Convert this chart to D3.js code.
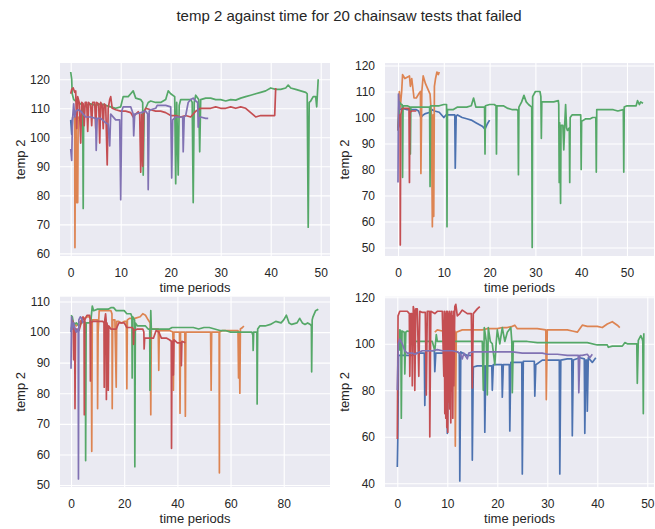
<!DOCTYPE html>
<html><head><meta charset="utf-8">
<script src="https://cdn.jsdelivr.net/npm/d3@7"></script>
<style>
html,body{margin:0;padding:0;background:#fff;}
text{font-family:"Liberation Sans",Arial,sans-serif;fill:#262626;}
</style></head>
<body><svg id="c" width="655" height="529"></svg>
<script>
const titleText = "temp 2 against time for 20 chainsaw tests that failed";
const xLabel = "time periods", yLabel = "temp 2";
const seriesNames = ["blue","orange","green","red","purple"];
const palette = ["#4C72B0","#DD8452","#55A868","#C44E52","#8172B3"];

// ---- tick labels ----
const p1XTicks=[0,10,20,30,40,50], p1YTicks=[60,70,80,90,100,110,120];
const p2XTicks=[0,10,20,30,40,50], p2YTicks=[50,60,70,80,90,100,110,120];
const p3XTicks=[0,20,40,60,80], p3YTicks=[50,60,70,80,90,100,110];
const p4XTicks=[0,10,20,30,40,50], p4YTicks=[40,60,80,100,120];

// ---- panel 1 ----
const p1Blue=[[0,106],[0.2,101],[0.4,107]];
const p1Orange=[[0.6,107],[0.8,107],[0.85,62],[0.95,107],[1.1,104],[1.2,77.5],[1.4,77.5],[1.5,107],[1.6,106]];
const p1Green=[[0,122.5],[0.2,120],[0.3,115],[0.6,113],[1,112.5],[1.5,112],[2,111.5],[2.4,111],[2.5,75.5],[2.6,110],[3,111],[4,111.5],[5,111],[6,111.5],[7,111],[8,110.5],[9,110],[10,110.5],[10.5,114],[11.5,114],[12,115],[12.5,116],[13,113.5],[14,113],[14.4,112],[14.5,87],[14.7,109],[15,110],[15.5,112],[16,112.5],[17,112],[18,112],[19,113],[19.5,116],[20,115],[20.8,114],[21,84],[21.2,112],[21.5,87],[21.7,111],[22,113],[23,113],[24,113],[24.3,112],[24.5,77.5],[24.7,112],[25,114.5],[25.6,113],[25.8,95],[26,113],[27,113.5],[28,113.5],[29,113],[30,113],[31,112.5],[32,113],[33,112.8],[34,113.5],[35,114],[36,114.5],[37,115],[38,115.5],[39,116],[40,117],[41,116.5],[42,116.5],[43,117],[43.5,118],[44,117],[45,116.5],[46,116],[47,115.5],[47.3,115],[47.5,69],[47.7,112],[48,112.5],[48.5,114],[49,114],[49.2,110.5],[49.5,120]];
const p1Red=[[0,115],[0.2,116.5],[0.5,117],[0.8,115.5],[1,116],[1.2,103],[1.4,114],[1.7,112],[2,98],[2.2,112],[2.5,111.5],[2.7,104],[2.9,112],[3.2,112],[3.4,102],[3.6,112],[4,111],[4.2,104],[4.4,112],[4.8,112],[5,103],[5.2,112],[5.6,111.5],[5.8,98],[6,112],[6.3,111],[6.5,103],[6.7,111.5],[7,111],[7.3,90.5],[7.5,110],[7.8,113],[8,114],[8.3,110],[9,109.5],[10,109],[11,109],[12,108.5],[12.5,107],[13,108],[13.5,108.8],[13.8,108],[14,88],[14.2,108],[14.4,90],[14.6,108],[15,110],[16,109.5],[17,109],[18,109],[19,108.5],[20,107.5],[21,107.5],[22,107],[23,107.5],[24,107],[25,109],[26,110],[27,110],[28,110],[29,110.5],[30,110],[31,110],[32,110.5],[33,110],[34,110.5],[35,110],[36,108.5],[37,107],[38,107.5],[39,107.5],[40,107.5],[40.8,107.5],[41,117]];
const p1Purple=[[0,96],[0.2,92],[0.35,106],[0.6,111.5],[0.8,107],[1,109],[1.5,109.5],[2,109],[2.5,108],[3,107],[4,107],[5,106.5],[5.1,95.5],[5.3,106.5],[6,106.5],[7,105],[7.5,104.5],[7.8,97],[8,108],[9,106],[9.8,106],[10,78.5],[10.2,109],[10.5,110.5],[11,110.5],[12,110.5],[12.5,108],[12.6,100.5],[12.8,108],[14,108.5],[15,109],[15.4,108],[15.5,82],[15.7,109],[16,109.5],[17,110],[17.3,111],[18,111],[19,111],[20,110.5],[20.2,86],[20.4,106],[21,107],[22,107],[22.4,107],[22.5,95],[22.7,107],[23,107.5],[23.5,112],[24,113],[24.5,113.5],[25,112.5],[25.4,112],[25.5,103.5],[25.7,106.5],[26,107],[27,106.5],[27.5,106.5]];

// ---- panel 2 ----
const p2Blue=[[0,96],[0.3,103],[1,103.5],[2,103],[3,103],[4,103],[4.5,102.5],[5,100],[5.5,101],[6,101.5],[7,102],[7.5,103],[8,102.5],[9,102],[10,100],[10.5,101],[11,101],[12,101],[12.4,101],[12.5,80.5],[12.7,100.5],[13,101],[14,100],[15,99.5],[16,99],[17,98],[18,97],[18.5,96.5],[19,95.5],[19.5,97.5],[20,99]];
const p2Orange=[[0,96],[0.3,110],[0.5,104],[0.8,110],[1,116.5],[1.5,115],[2,115.5],[2.5,116],[2.7,112],[3,115],[3.5,107.5],[4,107.5],[4.5,109],[4.9,110],[5,78.5],[5.2,110],[5.5,116],[6,113],[6.5,111],[7,109],[7.3,101],[7.5,58],[7.65,101],[7.8,62],[7.95,112],[8.2,115],[8.5,117.5],[8.8,116.5],[9,117.5]];
const p2Green=[[0,95],[0.3,106],[0.7,105],[0.9,105],[1,77],[1.1,104.5],[2,104.5],[2.6,104],[2.7,86],[2.8,104],[4,104],[5,104],[6,104],[6.9,104],[7,73.5],[7.1,104.5],[8,104.5],[9,104.5],[10,105],[10.6,105],[10.7,58],[10.8,103],[12,103],[13,104],[14,104],[15,104],[16,104.5],[16.5,107.5],[17,104],[18,104],[18.9,104],[19,86],[19.1,104.5],[20,105],[21,105],[21.4,104.5],[21.5,86],[21.6,104.5],[23,104.5],[24,103.5],[25,103],[26,103],[26.2,102.5],[26.3,78],[26.4,104],[27,106],[27.5,108.5],[28,106],[28.5,105],[29.2,104],[29.3,50],[29.4,108],[30,110],[31,110],[31.2,108],[31.3,92],[31.4,106],[32,106],[33,106],[34,106],[35,106.5],[35.1,105],[35.2,75],[35.3,98],[35.5,67],[35.6,97],[36,97],[36.2,87.5],[36.4,97],[36.6,105],[36.8,96],[37,95],[37.4,96],[37.5,75],[37.6,100],[38,101],[39,101],[39.9,101],[40,80],[40.1,98.5],[41,99.5],[42,99.5],[42.5,100],[43.2,100],[43.3,79],[43.4,103],[44,103],[45,103],[46,103],[47,103],[48,102.5],[49.2,103],[49.3,79],[49.4,104],[50,104.5],[51,104.5],[52,104.5],[52.3,106.5],[52.7,105],[53,106],[53.5,105.5]];
const p2Red=[[0,95],[0.3,101],[0.45,101],[0.5,51],[0.6,101],[0.8,103],[1,103.5],[2,103.5],[2.4,103.5],[2.5,75],[2.6,102],[3,102.5],[3.5,102.5],[4,102.5]];
const p2Purple=[[0,75],[0.1,109],[0.25,105],[0.4,103]];

// ---- panel 3 ----
const p3Blue=[[0,100],[0.3,103]];
const p3Orange=[[0,101],[1,103],[2,102],[3,103],[4,104],[5,104.5],[6,105],[7,105],[7.6,104],[7.8,61],[8,104],[9,104],[9.9,104],[10,75],[10.2,100],[10.6,107],[11,107],[12,107],[13,107],[14,107],[15,107],[15.4,106],[15.5,75],[15.7,104],[16.5,104],[17,82],[17.2,103.5],[18,103.5],[19,103],[20,103.5],[20.8,103.5],[21,81.5],[21.2,104],[22,104.5],[24,104.5],[26,105],[27,106],[28,105.5],[29,104],[29.8,103],[30,73],[30.2,101],[31,101],[32,101],[32.8,101],[33,87.5],[33.2,100.5],[35,100.5],[37,100.5],[38.3,100],[38.5,81],[38.7,100],[40,100],[40.8,100],[41,73.5],[41.2,100],[42.8,100],[43,72.5],[43.2,100],[45,100],[47,100],[50,100],[52.5,100],[52.7,81],[52.9,100],[55,100],[55.7,100],[55.8,54],[55.9,100],[57,100.5],[60,100.5],[62,100.5],[62.8,100.5],[63,85],[63.2,100],[63.5,80],[63.7,101],[64.5,101.5],[65,102]];
const p3Green=[[0,105.5],[0.5,105],[1,102.5],[2,103],[3,102],[4,103],[5,103.5],[5.4,103],[5.5,58],[5.7,103],[7,103],[7.5,104],[8,108.5],[8.5,107],[10,107.5],[12,107.5],[14,107.5],[15,108],[16,108],[17,107],[18,107],[20,107],[21,106],[22.5,106],[22.9,105],[23,85],[23.2,105],[23.9,104],[24,56],[24.2,103],[25,102],[26,102],[27,102],[28,102],[29,101],[29.6,101],[29.7,81],[29.9,101],[30,107],[30.2,101],[31,101],[33,101],[35,101],[37,101],[38,101.5],[40,101.5],[42,101.5],[44,101.5],[46,101.5],[48,101],[50,101.5],[52,101.5],[54,101],[56,100.5],[58,100.5],[60,100],[62,100],[64,100],[66,100],[68,100],[68.4,99],[68.5,94],[68.7,100],[69.9,100],[70,76.5],[70.2,101],[71,102],[73,102],[75,102.5],[77,103.5],[79,103],[80,104],[81,105.5],[82,103],[83,102.5],[85,103],[86,104.5],[87,103],[88,102.5],[89,103],[90,102.5],[90.4,102],[90.5,87],[90.7,104],[91,105],[92,107],[93,107.5]];
const p3Red=[[0.5,104],[0.8,103],[1,91],[1.2,102],[1.4,101],[1.5,75],[1.7,101],[2,101],[3,100.5],[3.5,102],[4,104],[4.5,105],[4.9,104],[5,73],[5.2,104],[6,105.5],[7,105.5],[7.2,104],[7.3,84],[7.5,103],[8,103.5],[10,103.5],[12,103.5],[12.4,103],[12.5,82],[12.7,104],[13,106],[13.2,104],[13.3,78],[13.5,103],[13.7,102],[14,81],[14.2,102],[15,101],[17,101],[18,103],[20,103],[21,101.5],[23,101.5],[23.4,101],[23.5,96],[23.7,100.5],[25,101],[27,101],[27.4,100],[27.5,94.5],[27.7,98],[29,98],[31,98],[32,100.5],[33,100],[34,98],[36,98],[37,97.5],[37.7,97],[37.8,62],[38,97],[38.4,97],[38.5,86],[38.7,97.5],[40,96.5],[41.4,96.5],[41.5,89],[41.7,97],[43,96.5]];
const p3Purple=[[0,88],[0.2,105],[0.5,101],[1,103],[1.5,101],[2,100],[2.5,101],[2.7,101],[2.8,52],[2.95,104],[3.5,105],[4,104.5],[4.5,103]];

// ---- panel 4 ----
const p4Blue=[[0,47],[0.1,59],[0.25,95],[1,95],[2,95],[3,95],[4,96],[5,96],[5.4,96],[5.5,73.5],[5.7,97],[7,97],[7.4,97],[7.5,88],[7.7,96],[9,96],[9.9,96],[10,61.5],[10.2,96],[11,97],[12,96.5],[12.4,96],[12.5,41],[12.7,96.5],[14,95],[14.9,95],[15,50],[15.2,90],[16,90.5],[17.4,90.5],[17.5,62],[17.7,90.5],[18.9,90.5],[19,80],[19.2,91],[20,91],[20.9,91],[21,77],[21.2,91],[22.4,91],[22.5,62.5],[22.7,92],[24,92],[24.9,92],[25,44],[25.2,92.5],[27.4,92.5],[27.5,77.5],[27.7,91],[29,93],[31,93],[32.4,93],[32.5,44],[32.7,93],[34,93.5],[34.9,93.5],[35,60.5],[35.2,93],[36.5,94],[37.4,93.5],[37.5,61.5],[37.7,93],[37.9,93],[38,71],[38.2,94],[39,92],[39.7,94]];
const p4Orange=[[7.5,105],[8,106],[9,105.5],[10,105.5],[11,105.5],[11.5,105.5],[11.6,56],[11.8,105],[13,106],[15,106],[17,106],[18,106.5],[20,106.5],[21,107],[22,107],[23,107.5],[23.5,108],[24,106.5],[26,106.5],[28,106.5],[29.7,106],[29.8,76],[30,106],[32,106],[34,106],[35,105.5],[36,105],[37,108],[38,107.5],[40,107.5],[41,107],[42,108.5],[43,109.5],[44,108],[44.5,107]];
const p4Green=[[0.4,97],[0.5,106],[0.7,105.5],[0.8,68],[0.95,105.5],[1.4,105],[1.5,87],[1.7,105],[2,105.5],[3,105],[3.5,101],[4,101],[5,101],[6,101],[7,101],[7.5,97],[7.8,104],[8,101],[10,101],[12,101],[14,101],[16,101],[17,101],[17.2,80],[17.4,107],[17.8,101],[18,78],[18.2,107],[18.6,101],[19,100],[19.5,91],[19.8,101],[20,106],[20.5,100],[21,107],[21.5,101],[22,105],[22.7,107],[22.9,101],[23,79],[23.2,101],[24,101],[26,101],[28,100.5],[30,100.5],[32,100.5],[34,100.5],[36,100.5],[38,100.5],[40,99.5],[42,99.5],[42.2,98.5],[43,99],[45,99],[45.5,100.5],[46,100],[47,100],[47.9,100],[48,83],[48.2,101.5],[48.7,103.5],[49,102],[49.1,101],[49.2,70],[49.3,104.5]];
const p4Red=[[0,59],[0.15,112],[0.5,114],[1,114],[2,114],[2.4,113],[2.5,86],[2.7,113],[2.9,113],[3,82],[3.2,116],[3.4,114],[3.5,80],[3.7,115],[4,115],[4.3,86],[4.5,114],[5,113.5],[5.6,113.5],[5.8,78],[6,114],[6.4,114],[6.5,60],[6.7,114],[7.5,113],[8,114],[9,114],[9.3,86],[9.4,114],[9.5,70],[9.6,113],[9.7,68],[9.8,114],[9.9,64],[10,114],[10.1,62],[10.2,113],[10.3,75],[10.4,114],[10.5,72],[10.6,113],[10.7,66],[10.8,114],[10.9,80],[11,112],[11.1,68],[11.2,114],[11.3,82],[11.5,116],[11.7,117],[12,112],[12.5,113],[13,114.5],[14,113],[14.8,113],[15,81],[15.2,113],[16,115],[16.5,116]];
const p4Purple=[[0,80],[0.2,100],[0.5,102],[1,100],[1.5,97],[2,96],[3,96],[3.5,95.5],[4,96],[5,97],[6,97],[7,97],[8,97.5],[9,97],[10,97],[11,97],[12,96.5],[12.5,96],[13,93.5],[13.3,96],[14,93.5],[14.3,96],[15,96.5],[17,96.5],[19,96.5],[21,96.5],[23,96.5],[25,96],[27,96],[29,96],[30,95.5],[32,95.5],[34,95],[36,95],[36.2,95],[36.3,79],[36.5,95],[37,95],[38,95.5],[38.5,94],[39,95.5]];

const panels=[
 {r:[60,330,63,256], xd:[-2.14,51.86], yd:[59.1,125.6], xt:p1XTicks, yt:p1YTicks, s:[p1Blue,p1Orange,p1Green,p1Red,p1Purple], ylx:20},
 {r:[385,654,63,256], xd:[-2.84,55.9], yd:[46.73,120.96], xt:p2XTicks, yt:p2YTicks, s:[p2Blue,p2Orange,p2Green,p2Red,p2Purple], ylx:344},
 {r:[60,330,296.7,487], xd:[-4.14,97.4], yd:[49.35,111.57], xt:p3XTicks, yt:p3YTicks, s:[p3Blue,p3Orange,p3Green,p3Red,p3Purple], ylx:20},
 {r:[385,654,296.7,487], xd:[-2.46,51.34], yd:[38.4,120.26], xt:p4XTicks, yt:p4YTicks, s:[p4Blue,p4Orange,p4Green,p4Red,p4Purple], ylx:344}
];

const svg=d3.select("#c");
svg.append("text").attr("x",349).attr("y",15).attr("text-anchor","middle").attr("dominant-baseline","central")
  .style("font-size","15px").text(titleText);

panels.forEach((p,i)=>{
  const [x0,x1,y0,y1]=p.r;
  const x=d3.scaleLinear().domain(p.xd).range([x0,x1]);
  const y=d3.scaleLinear().domain(p.yd).range([y1,y0]);
  svg.append("rect").attr("x",x0).attr("y",y0).attr("width",x1-x0).attr("height",y1-y0).attr("fill","#EAEAF2");
  const gx=svg.append("g").attr("transform",`translate(0,${y1})`)
    .call(d3.axisBottom(x).tickValues(p.xt).tickFormat(d3.format("d")).tickSize(-(y1-y0)).tickPadding(12));
  const gy=svg.append("g").attr("transform",`translate(${x0},0)`)
    .call(d3.axisLeft(y).tickValues(p.yt).tickFormat(d3.format("d")).tickSize(-(x1-x0)).tickPadding(10));
  [gx,gy].forEach(g=>{
    g.select(".domain").remove();
    g.selectAll(".tick line").attr("stroke","#ffffff").attr("stroke-width",1.1);
    g.selectAll(".tick text").style("font-size","12px").attr("fill","#262626")
      .style("font-family","'Liberation Sans',Arial,sans-serif");
  });
  const cid="clip"+i;
  svg.append("clipPath").attr("id",cid).append("rect").attr("x",x0).attr("y",y0).attr("width",x1-x0).attr("height",y1-y0);
  const line=d3.line().x(d=>x(d[0])).y(d=>y(d[1]));
  const g=svg.append("g").attr("clip-path",`url(#${cid})`);
  p.s.forEach((data,k)=>{
    g.append("path").datum(data).attr("d",line).attr("fill","none")
      .attr("stroke",palette[k]).attr("stroke-width",1.7).attr("stroke-linejoin","round");
  });
  svg.append("text").attr("x",(x0+x1)/2).attr("y",y1+31).attr("text-anchor","middle").attr("dominant-baseline","central")
    .style("font-size","13px").text(xLabel);
  svg.append("text").attr("transform",`translate(${p.ylx},${(y0+y1)/2}) rotate(-90)`).attr("text-anchor","middle")
    .attr("dominant-baseline","central").style("font-size","13px").text(yLabel);
});
</script></body></html>
